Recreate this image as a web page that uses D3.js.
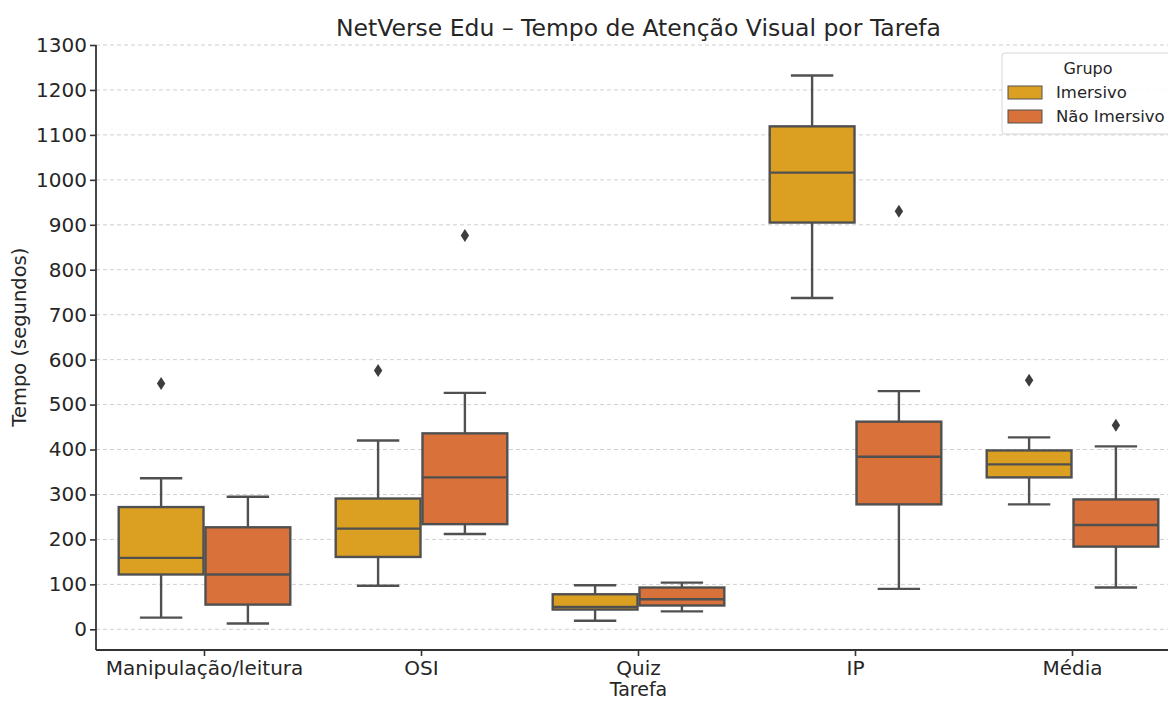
<!DOCTYPE html>
<html>
<head>
<meta charset="utf-8">
<script src="https://cdn.jsdelivr.net/npm/d3@7"></script>
<style>
  body { margin: 0; background: #fff; }
  svg, svg text { font-family: "DejaVu Sans", sans-serif; }
  .grid line { stroke: #d0d0d0; stroke-dasharray: 4,3; }
  .axis path { display: none; }
  .axis line { stroke: #333; stroke-width: 1.6; }
  .axis text { fill: #262626; font-size: 20px; font-family: "DejaVu Sans", sans-serif; }
</style>
</head>
<body>
<div id="chart-area"></div>
<script>
// categories and groups
var tasks = ["Manipulação/leitura", "OSI", "Quiz", "IP", "Média"];
var groups = ["Imersivo", "Não Imersivo"];

// [whisker low, q1, median, q3, whisker high] per task
var imersivoStats = [
    [26, 122, 159, 272, 336],
    [97, 161, 224, 291, 420],
    [19, 44, 50, 78, 98],
    [737, 905, 1016, 1119, 1232],
    [278, 338, 367, 398, 427]
];
var naoImersivoStats = [
    [13, 55, 122, 227, 295],
    [212, 234, 338, 436, 526],
    [40, 53, 67, 93, 104],
    [90, 278, 384, 462, 530],
    [93, 184, 232, 289, 407]
];
var imersivoOutliers = [[547], [576], [], [], [554]];
var naoImersivoOutliers = [[], [876], [], [930], [454]];

var yTicks = [0, 100, 200, 300, 400, 500, 600, 700, 800, 900, 1000, 1100, 1200, 1300];

var colors = ["#DBA021", "#D9713A"];
var edge = "#505050";

var margin = {top: 45, right: -13, bottom: 51, left: 96};
var width = 1168 - margin.left - margin.right,
    height = 701 - margin.top - margin.bottom;

var svg = d3.select("#chart-area").append("svg")
    .attr("width", 1168)
    .attr("height", 701)
    .append("g")
    .attr("transform", "translate(" + margin.left + "," + margin.top + ")");

var x = d3.scaleBand().domain(tasks).range([0, width]);
var y = d3.scaleLinear().domain([-46, 1300]).range([height, 0]);

var hueX = d3.scaleBand().domain(groups).range([-x.bandwidth() * 0.4, x.bandwidth() * 0.4]);

// grid
svg.append("g")
    .attr("class", "grid")
    .selectAll("line")
    .data(yTicks)
    .enter().append("line")
    .attr("x1", 0).attr("x2", width)
    .attr("y1", function(d) { return y(d); })
    .attr("y2", function(d) { return y(d); });

// build rows for drawing
var rows = [];
tasks.forEach(function(t, i) {
    rows.push({task: t, group: groups[0], s: imersivoStats[i], out: imersivoOutliers[i], c: colors[0]});
    rows.push({task: t, group: groups[1], s: naoImersivoStats[i], out: naoImersivoOutliers[i], c: colors[1]});
});

var boxes = svg.selectAll(".box")
    .data(rows)
    .enter().append("g")
    .attr("class", "box")
    .attr("transform", function(d) {
        return "translate(" + (x(d.task) + x.bandwidth() / 2 + hueX(d.group) + hueX.bandwidth() / 2) + ",0)";
    });

var bw = hueX.bandwidth() - 2;

// whiskers
boxes.append("line")
    .attr("x1", 0).attr("x2", 0)
    .attr("y1", function(d) { return y(d.s[0]); })
    .attr("y2", function(d) { return y(d.s[1]); })
    .attr("stroke", edge).attr("stroke-width", 2.4);
boxes.append("line")
    .attr("x1", 0).attr("x2", 0)
    .attr("y1", function(d) { return y(d.s[3]); })
    .attr("y2", function(d) { return y(d.s[4]); })
    .attr("stroke", edge).attr("stroke-width", 2.4);
// caps
[0, 4].forEach(function(k) {
    boxes.append("line")
        .attr("x1", -bw / 4).attr("x2", bw / 4)
        .attr("y1", function(d) { return y(d.s[k]); })
        .attr("y2", function(d) { return y(d.s[k]); })
        .attr("stroke", edge).attr("stroke-width", 2.4);
});
// box
boxes.append("rect")
    .attr("x", -bw / 2)
    .attr("width", bw)
    .attr("y", function(d) { return y(d.s[3]); })
    .attr("height", function(d) { return y(d.s[1]) - y(d.s[3]); })
    .attr("fill", function(d) { return d.c; })
    .attr("stroke", edge).attr("stroke-width", 2.4);
// median
boxes.append("line")
    .attr("x1", -bw / 2).attr("x2", bw / 2)
    .attr("y1", function(d) { return y(d.s[2]); })
    .attr("y2", function(d) { return y(d.s[2]); })
    .attr("stroke", edge).attr("stroke-width", 2.4);
// outliers (thin diamonds)
boxes.selectAll(".outlier")
    .data(function(d) { return d.out; })
    .enter().append("path")
    .attr("class", "outlier")
    .attr("d", function(v) {
        var cy = y(v);
        return "M0," + (cy - 6.5) + "L4.2," + cy + "L0," + (cy + 6.5) + "L-4.2," + cy + "Z";
    })
    .attr("fill", "#3d3d3d");

// axes
var xAxis = d3.axisBottom(x).tickSizeOuter(0).tickSize(6).tickPadding(5);
var yAxis = d3.axisLeft(y).tickValues(yTicks).tickFormat(d3.format("d")).tickSizeOuter(0).tickSize(6).tickPadding(3);

svg.append("g")
    .attr("class", "x-axis axis")
    .attr("transform", "translate(0," + height + ")")
    .call(xAxis);

svg.append("g")
    .attr("class", "y-axis axis")
    .call(yAxis);

// spines (left and bottom)
svg.append("line")
    .attr("x1", 0).attr("x2", 0)
    .attr("y1", 0).attr("y2", height)
    .attr("stroke", "#333").attr("stroke-width", 1.8);
svg.append("line")
    .attr("x1", 0).attr("x2", width)
    .attr("y1", height).attr("y2", height)
    .attr("stroke", "#333").attr("stroke-width", 1.8);

// titles
svg.append("text")
    .attr("x", width / 2)
    .attr("y", -9)
    .attr("text-anchor", "middle")
    .attr("fill", "#262626")
    .style("font-size", "23.5px")
    .text("NetVerse Edu – Tempo de Atenção Visual por Tarefa");

svg.append("text")
    .attr("x", width / 2)
    .attr("y", height + 46)
    .attr("text-anchor", "middle")
    .attr("fill", "#262626")
    .style("font-size", "19px")
    .text("Tarefa");

svg.append("text")
    .attr("transform", "translate(-70," + (y(650)) + ") rotate(-90)")
    .attr("text-anchor", "middle")
    .attr("fill", "#262626")
    .style("font-size", "19.5px")
    .text("Tempo (segundos)");

// legend
var legend = svg.append("g")
    .attr("transform", "translate(" + (1002 - margin.left) + "," + (53 - margin.top) + ")");
legend.append("rect")
    .attr("width", 180).attr("height", 81)
    .attr("rx", 3)
    .attr("fill", "#fff").attr("fill-opacity", 0.85)
    .attr("stroke", "#d6d6d6");
legend.append("text")
    .attr("x", 86).attr("y", 21)
    .attr("text-anchor", "middle")
    .attr("fill", "#262626")
    .style("font-size", "16px")
    .text("Grupo");
groups.forEach(function(g, i) {
    legend.append("rect")
        .attr("x", 6).attr("y", 33 + i * 24)
        .attr("width", 34).attr("height", 13)
        .attr("fill", colors[i])
        .attr("stroke", edge).attr("stroke-width", 1);
    legend.append("text")
        .attr("x", 54).attr("y", 45 + i * 24)
        .attr("fill", "#262626")
        .style("font-size", "16.5px")
        .text(g);
});
</script>
</body>
</html>
